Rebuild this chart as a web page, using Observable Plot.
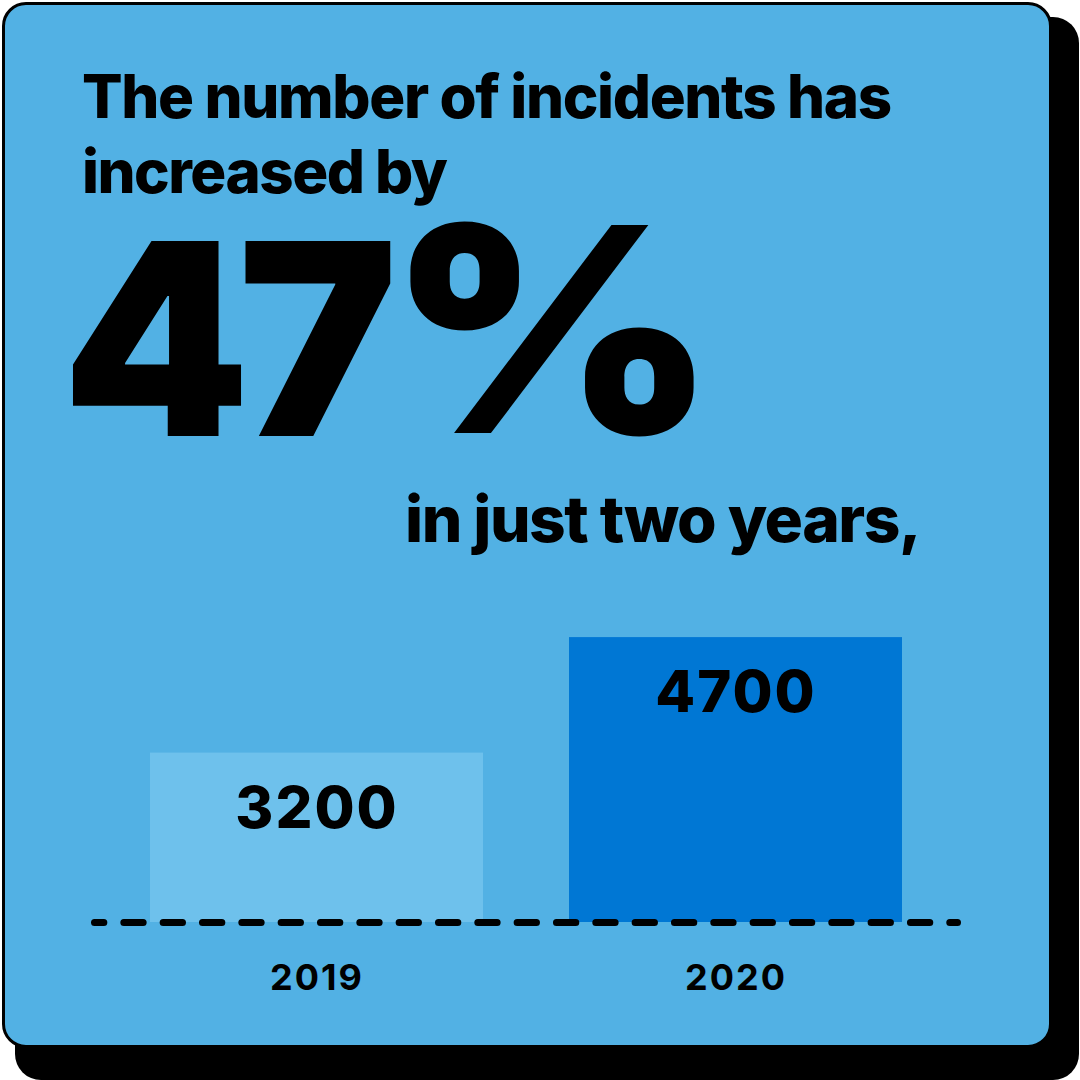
<!DOCTYPE html>
<html>
<head>
<meta charset="utf-8">
<script src="https://cdn.jsdelivr.net/npm/d3@7"></script>
<script src="https://cdn.jsdelivr.net/npm/@observablehq/plot@0.6"></script>
<style>
  html, body { margin: 0; padding: 0; background: #ffffff; }
  #stage { position: relative; width: 1080px; height: 1080px; overflow: hidden; font-family: Inter, "Noto Sans", sans-serif; color: #000; }
  #shadow { position: absolute; left: 15px; top: 17px; width: 1064px; height: 1063px; background: #000; border-radius: 26px; }
  #card { position: absolute; left: 2px; top: 2px; width: 1044px; height: 1040px; background: #52B1E4; border: 3px solid #000; border-radius: 24px; }
  .t { position: absolute; white-space: nowrap; font-weight: 800; line-height: 1; }
  #l1 { left: 82px; top: 66px; font-size: 60px; letter-spacing: -1.35px; }
  #l2 { left: 82px; top: 141px; font-size: 60px; letter-spacing: -1.5px; }
  #big { left: 62px; top: 238px; font-size: 268px; font-weight: 900; letter-spacing: -12px; line-height: 0.75; }
  #pct { left: 386px; top: 199px; font-size: 318px; font-weight: 900; line-height: 0.75; transform: scale(0.99, 0.9); transform-origin: 50% 235px; }
  #l3 { left: 405px; top: 487px; font-size: 64px; letter-spacing: -1.5px; }
  #chart { position: absolute; left: 0; top: 600px; }
</style>
</head>
<body>
<div id="stage">
  <div id="shadow"></div>
  <div id="card"></div>
  <div class="t" id="l1">The number of incidents has</div>
  <div class="t" id="l2">increased by</div>
  <div class="t" id="big">47</div>
  <div class="t" id="pct">%</div>
  <div class="t" id="l3">in just two years,</div>
  <div id="chart"></div>
</div>
<script>
const years = ["2019", "2020"];
const incidents = [3200, 4700];
const baseline = 1000;
const yMax = 5000;
const barColors = ["#6EC1EC", "#0077D4"];

const data = years.map((year, i) => ({year, value: incidents[i]}));

const plot = Plot.plot({
  width: 1080,
  height: 420,
  marginLeft: 63,
  marginRight: 91,
  marginTop: 14,
  marginBottom: 98,
  style: {background: "transparent", fontFamily: "Inter, 'Noto Sans', sans-serif", color: "#000", overflow: "visible"},
  x: {domain: years, padding: 0.2048, label: null},
  y: {domain: [baseline, yMax], axis: null},
  color: {domain: years, range: barColors},
  marks: [
    Plot.rectY(data, {x: "year", y1: baseline, y2: "value", fill: "year"}),
    Plot.ruleY([baseline], {stroke: "#000", strokeWidth: 7, strokeLinecap: "round", strokeDasharray: "19.33,20", strokeDashoffset: 10, insetLeft: 31.5, insetRight: 31.5}),
    Plot.text(data, {x: "year", y: "value", text: d => String(d.value), dy: 56, fontSize: 58, fontWeight: 800, fill: "#000"}),
    Plot.axisX({tickSize: 0, tickPadding: 42, fontSize: 36, fontWeight: 700, label: null})
  ]
});
document.getElementById("chart").appendChild(plot);
plot.querySelectorAll("g[aria-label='text'] text, g[aria-label='x-axis tick label'] text").forEach(t => t.setAttribute("letter-spacing", "2"));
</script>
</body>
</html>
